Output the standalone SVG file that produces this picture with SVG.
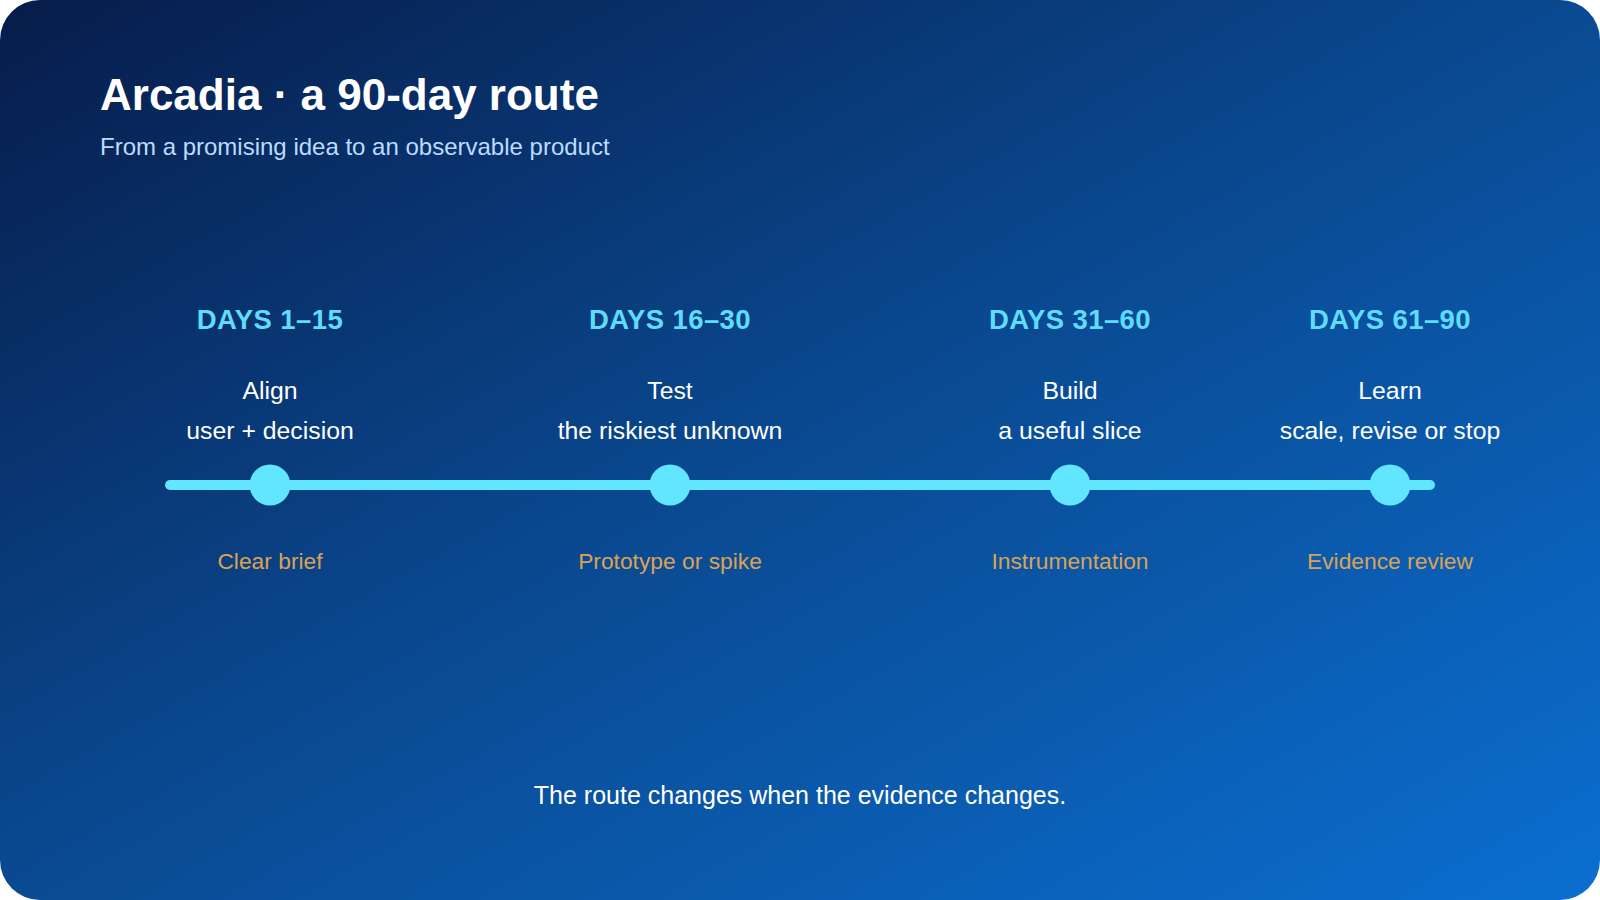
<svg xmlns="http://www.w3.org/2000/svg" width="1600" height="900" viewBox="0 0 1600 900">
  <defs>
    <linearGradient id="bg" x1="0" y1="0" x2="1" y2="1">
      <stop offset="0" stop-color="#071c4a"/>
      <stop offset="0.5" stop-color="#0a4a92"/>
      <stop offset="1" stop-color="#0b6fd1"/>
    </linearGradient>
    <style>
      text { font-family: "Liberation Sans", Arial, sans-serif; }
      .title { font-size: 44px; font-weight: bold; fill: #ffffff; }
      .sub { font-size: 24px; fill: #bcdcff; }
      .days { font-size: 27.5px; font-weight: bold; fill: #5fdcfb; text-anchor: middle; letter-spacing: 0.4px; }
      .phase { font-size: 24.8px; fill: #ffffff; text-anchor: middle; }
      .out { font-size: 22.8px; fill: #d9a255; text-anchor: middle; }
      .foot { font-size: 25px; fill: #ffffff; text-anchor: middle; }
      .dot { fill: #62e5ff; }
      .route { stroke: #62e5ff; stroke-width: 10; stroke-linecap: round; fill: none; }
    </style>
  </defs>
  <rect x="0" y="0" width="1600" height="900" fill="#ffffff"/>
  <rect x="0" y="0" width="1600" height="900" rx="40" ry="40" fill="url(#bg)"/>

  <g id="header">
    <text class="title" x="100" y="110">Arcadia · a 90-day route</text>
    <text class="sub" x="100" y="155">From a promising idea to an observable product</text>
  </g>

  <g id="connectors">
    <line class="route" x1="170" y1="485" x2="1430" y2="485"/>
  </g>

  <g id="stage1">
    <text class="days" x="270" y="329">DAYS 1–15</text>
    <text class="phase" x="270" y="399">Align</text>
    <text class="phase" x="270" y="439">user + decision</text>
    <circle class="dot" cx="270" cy="485" r="20.5"/>
    <text class="out" x="270" y="569">Clear brief</text>
  </g>

  <g id="stage2">
    <text class="days" x="670" y="329">DAYS 16–30</text>
    <text class="phase" x="670" y="399">Test</text>
    <text class="phase" x="670" y="439">the riskiest unknown</text>
    <circle class="dot" cx="670" cy="485" r="20.5"/>
    <text class="out" x="670" y="569">Prototype or spike</text>
  </g>

  <g id="stage3">
    <text class="days" x="1070" y="329">DAYS 31–60</text>
    <text class="phase" x="1070" y="399">Build</text>
    <text class="phase" x="1070" y="439">a useful slice</text>
    <circle class="dot" cx="1070" cy="485" r="20.5"/>
    <text class="out" x="1070" y="569">Instrumentation</text>
  </g>

  <g id="stage4">
    <text class="days" x="1390" y="329">DAYS 61–90</text>
    <text class="phase" x="1390" y="399">Learn</text>
    <text class="phase" x="1390" y="439">scale, revise or stop</text>
    <circle class="dot" cx="1390" cy="485" r="20.5"/>
    <text class="out" x="1390" y="569">Evidence review</text>
  </g>

  <g id="footer">
    <text class="foot" x="800" y="804">The route changes when the evidence changes.</text>
  </g>
</svg>
